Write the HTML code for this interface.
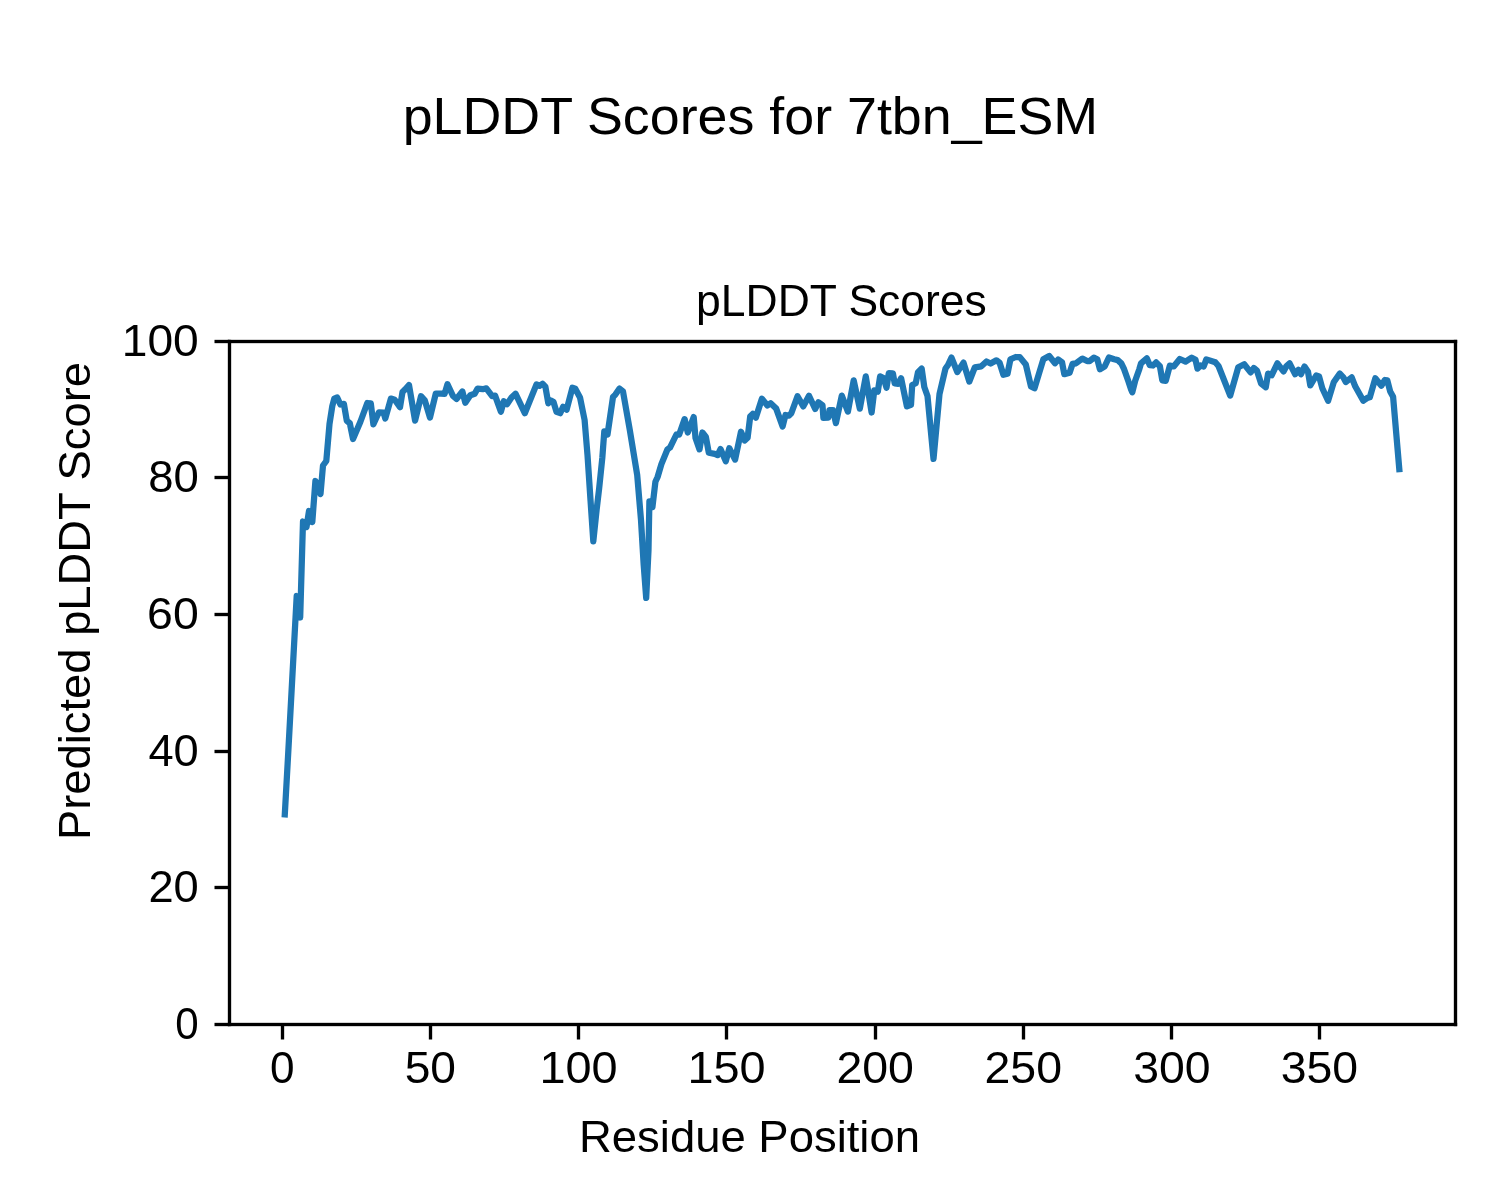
<!DOCTYPE html>
<html><head><meta charset="utf-8"><title>pLDDT Scores for 7tbn_ESM</title>
<style>
html,body{margin:0;padding:0;background:#fff;width:1500px;height:1200px;overflow:hidden}
svg{display:block;will-change:transform}
text{font-family:"Liberation Sans", sans-serif;fill:#000}
</style></head><body>
<svg width="1500" height="1200" viewBox="0 0 1500 1200">
<rect x="0" y="0" width="1500" height="1200" fill="#fff"/>
<polyline points="284.8,814.4 288.0,757.0 291.2,698.0 296.7,596.0 300.2,617.5 303.0,521.5 306.5,527.0 309.0,511.0 312.3,522.0 315.4,481.0 320.5,494.0 323.0,465.5 326.3,461.0 329.5,424.0 332.3,406.0 334.3,398.7 337.2,397.5 340.4,404.5 343.9,403.9 346.8,420.8 349.8,423.2 353.0,439.0 360.3,422.0 367.3,403.0 370.8,403.3 373.4,424.3 378.9,412.3 383.6,412.7 385.3,418.5 390.9,398.6 394.7,399.8 400.0,407.2 402.5,392.0 405.0,389.5 409.0,385.0 415.1,420.6 421.0,396.2 424.8,400.3 430.0,417.5 435.8,393.6 441.1,393.6 444.6,393.9 447.5,384.2 453.0,396.0 456.5,399.0 462.4,391.5 465.3,402.8 470.3,395.3 474.7,393.8 477.6,388.6 482.8,389.2 486.3,388.3 492.2,396.2 495.1,395.6 500.9,411.7 503.8,401.3 507.0,404.2 511.5,397.5 515.5,393.7 524.8,413.2 536.5,384.4 539.5,385.8 542.5,383.8 545.4,386.7 548.3,403.3 550.8,400.4 553.5,402.0 556.5,411.8 560.2,413.2 563.1,406.8 566.6,409.7 572.4,387.7 575.3,388.7 580.0,397.4 584.6,420.0 587.5,455.0 590.5,500.0 593.3,541.4 596.6,510.0 599.2,488.0 602.3,458.0 604.3,431.3 607.5,434.5 613.0,397.0 615.4,394.6 619.5,388.6 623.0,391.5 629.8,430.0 637.2,475.0 641.0,520.0 643.7,565.0 646.2,597.9 648.5,550.0 649.4,501.3 652.4,507.3 655.4,481.8 657.6,477.0 661.4,464.1 667.4,449.5 670.0,447.6 676.4,434.5 679.1,434.7 684.6,419.1 687.8,432.5 693.7,417.1 695.5,438.0 699.5,449.4 702.4,432.5 705.9,437.0 708.8,452.8 714.7,453.9 717.6,455.1 720.5,449.1 725.8,461.3 729.3,448.3 735.1,459.6 741.0,431.7 744.7,440.5 747.6,437.8 750.2,416.5 752.8,413.8 755.8,417.7 761.9,398.8 767.4,405.5 770.6,403.2 776.2,408.6 782.6,426.5 785.5,415.0 789.0,415.6 791.3,413.3 797.5,396.2 803.3,406.4 809.0,395.7 815.2,409.0 818.4,402.3 822.5,405.3 823.4,417.9 828.3,417.6 829.5,410.0 833.0,410.0 835.9,423.2 841.8,395.6 847.9,411.6 853.7,380.4 859.8,408.6 865.8,376.4 871.6,412.5 874.3,390.3 877.8,391.7 880.1,376.4 883.6,378.0 886.5,387.7 888.8,373.2 892.9,373.3 894.7,383.5 898.2,383.8 901.1,378.2 906.9,406.4 911.0,404.8 912.2,385.0 915.7,383.3 918.0,372.2 921.7,368.6 924.3,387.0 927.5,396.0 933.5,458.9 939.5,394.0 945.5,368.5 948.0,365.0 951.5,357.6 957.3,372.1 963.5,362.6 969.3,381.5 974.8,367.4 981.3,366.3 986.5,361.5 990.6,363.5 996.4,360.3 999.6,362.8 1003.4,374.8 1007.5,373.8 1010.4,359.3 1015.7,357.0 1019.8,357.1 1025.8,364.5 1031.0,386.5 1034.5,388.3 1043.3,359.3 1049.2,356.0 1055.0,363.2 1058.2,359.4 1062.0,362.2 1064.3,374.2 1069.6,372.7 1072.5,363.9 1076.0,363.3 1082.4,358.6 1087.1,361.0 1089.7,361.0 1093.8,357.7 1097.3,359.3 1099.9,369.3 1104.8,366.3 1108.9,357.5 1114.2,359.3 1117.7,360.1 1121.3,363.4 1124.1,369.2 1128.2,380.8 1131.1,389.6 1132.3,392.3 1135.2,380.8 1139.3,369.2 1141.0,363.3 1146.8,358.3 1149.8,365.2 1152.9,365.5 1156.1,362.4 1159.9,366.3 1162.3,380.3 1165.8,380.8 1169.8,365.7 1173.9,366.3 1179.8,359.0 1185.6,361.6 1191.7,357.7 1195.5,359.8 1197.5,368.7 1200.5,365.4 1203.7,366.5 1206.3,359.4 1215.3,362.3 1218.5,366.0 1230.2,395.6 1238.3,367.2 1244.2,364.3 1250.6,372.4 1253.8,368.0 1257.0,370.7 1261.1,383.5 1265.8,387.2 1268.1,373.6 1271.6,375.3 1277.4,363.3 1283.5,371.5 1286.5,366.0 1289.6,363.3 1295.2,374.3 1298.4,369.7 1301.0,374.3 1304.5,366.5 1308.0,371.8 1310.3,385.4 1316.2,375.5 1319.1,376.5 1322.3,388.2 1328.1,400.8 1333.7,382.3 1339.8,373.5 1343.3,377.3 1345.8,382.0 1351.7,377.4 1355.2,386.3 1363.3,400.7 1367.4,397.9 1369.8,397.3 1375.3,378.3 1381.4,385.7 1384.9,380.0 1387.3,380.4 1390.2,391.5 1393.1,396.8 1399.3,469.2" fill="none" stroke="#1f77b4" stroke-width="6.25" stroke-linejoin="round" stroke-linecap="square"/>
<g fill="#000">
<rect x="227.833" y="339.834" width="3.333" height="686.333"/>
<rect x="1453.833" y="339.834" width="3.333" height="686.333"/>
<rect x="227.833" y="339.834" width="1229.333" height="3.333"/>
<rect x="227.833" y="1022.833" width="1229.333" height="3.333"/>
<rect x="214.5" y="1022.833" width="15" height="3.333"/>
<rect x="214.5" y="885.833" width="15" height="3.333"/>
<rect x="214.5" y="749.833" width="15" height="3.333"/>
<rect x="214.5" y="612.833" width="15" height="3.333"/>
<rect x="214.5" y="475.834" width="15" height="3.333"/>
<rect x="214.5" y="339.834" width="15" height="3.333"/>
<rect x="280.834" y="1024.5" width="3.333" height="15"/>
<rect x="428.834" y="1024.5" width="3.333" height="15"/>
<rect x="576.833" y="1024.5" width="3.333" height="15"/>
<rect x="724.833" y="1024.5" width="3.333" height="15"/>
<rect x="873.833" y="1024.5" width="3.333" height="15"/>
<rect x="1021.833" y="1024.5" width="3.333" height="15"/>
<rect x="1169.833" y="1024.5" width="3.333" height="15"/>
<rect x="1317.833" y="1024.5" width="3.333" height="15"/>
</g>
<text id="y0" x="198.8" y="1038.9" font-size="44.15" text-anchor="end" textLength="23.44" lengthAdjust="spacingAndGlyphs">0</text>
<text id="y20" x="198.8" y="901.9" font-size="44.15" text-anchor="end" textLength="50.39" lengthAdjust="spacingAndGlyphs">20</text>
<text id="y40" x="198.8" y="765.9" font-size="44.15" text-anchor="end" textLength="50.38" lengthAdjust="spacingAndGlyphs">40</text>
<text id="y60" x="198.8" y="628.9" font-size="44.15" text-anchor="end" textLength="51.67" lengthAdjust="spacingAndGlyphs">60</text>
<text id="y80" x="198.8" y="491.9" font-size="44.15" text-anchor="end" textLength="50.63" lengthAdjust="spacingAndGlyphs">80</text>
<text id="y100" x="198.8" y="355.9" font-size="44.15" text-anchor="end" textLength="77.06" lengthAdjust="spacingAndGlyphs">100</text>
<text id="x0" x="282.17" y="1083.0" font-size="44.15" text-anchor="middle" textLength="24.56" lengthAdjust="spacingAndGlyphs">0</text>
<text id="x50" x="430.38" y="1083.0" font-size="44.15" text-anchor="middle" textLength="51.33" lengthAdjust="spacingAndGlyphs">50</text>
<text id="x100" x="578.47" y="1083.0" font-size="44.15" text-anchor="middle" textLength="78.19" lengthAdjust="spacingAndGlyphs">100</text>
<text id="x150" x="726.49" y="1083.0" font-size="44.15" text-anchor="middle" textLength="78.19" lengthAdjust="spacingAndGlyphs">150</text>
<text id="x200" x="875.2" y="1083.0" font-size="44.15" text-anchor="middle" textLength="77.56" lengthAdjust="spacingAndGlyphs">200</text>
<text id="x250" x="1023.22" y="1083.0" font-size="44.15" text-anchor="middle" textLength="77.56" lengthAdjust="spacingAndGlyphs">250</text>
<text id="x300" x="1171.92" y="1083.0" font-size="44.15" text-anchor="middle" textLength="77.43" lengthAdjust="spacingAndGlyphs">300</text>
<text id="x350" x="1319.44" y="1083.0" font-size="44.15" text-anchor="middle" textLength="77.43" lengthAdjust="spacingAndGlyphs">350</text>
<text id="suptitle" x="750.4" y="134.2" font-size="52.3" text-anchor="middle" textLength="695.50" lengthAdjust="spacingAndGlyphs">pLDDT Scores for 7tbn_ESM</text>
<text id="title" x="841.45" y="315.9" font-size="44.15" text-anchor="middle" textLength="290.70" lengthAdjust="spacingAndGlyphs">pLDDT Scores</text>
<text id="xlabel" x="749.5" y="1152.0" font-size="44.15" text-anchor="middle" textLength="340.96" lengthAdjust="spacingAndGlyphs">Residue Position</text>
<text id="ylabel" transform="translate(90.0,601.0) rotate(-90)" x="0" y="0" font-size="44.15" text-anchor="middle" textLength="478.02" lengthAdjust="spacingAndGlyphs">Predicted pLDDT Score</text>
</svg>
</body></html>
